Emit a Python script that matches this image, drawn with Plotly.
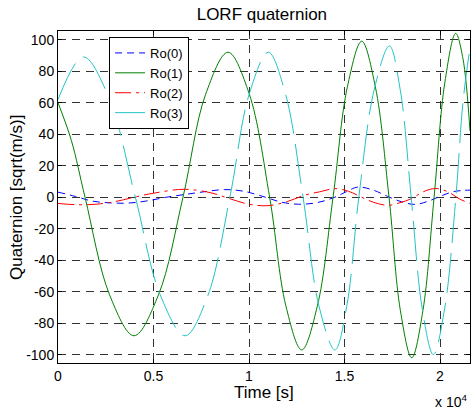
import plotly.graph_objects as go

# ---- data ----
t_ro0 = [0, 900, 1800, 2700, 3600, 4600, 5700, 6700, 7700, 8700, 9700, 10850, 11700,
         12600, 13550, 14500, 15100, 15700, 16500, 17250, 18000, 18700, 19400, 20000,
         20700, 21570]
ro0 = [3.2, 0.5, -2.5, -3.6, -3.8, -2.5, 0, 1.8, 3.5, 4.8, 3.8, 0, -3.2,
       -4.5, -3.5, 0, 3.5, 6.4, 4.5, 0.5, -3, -4.6, -2.5, 0.5, 3.5, 4.5]

t_ro1 = [0, 700, 1414, 2700, 3980, 5260, 6545, 7720, 8900, 10000, 11080, 11930, 12760,
         13580, 14400, 15150, 15900, 16615, 17330, 17925, 18520, 19105, 19690, 20255,
         20820, 21200, 21570]
ro1 = [60, 36, 0, -62, -88, -62, 0, 65, 92, 66, 0, -69, -97,
       -69, 0, 70, 99, 70, 0, -72, -102, -72, 0, 73, 104, 88, 42]

t_ro2 = [0, 1000, 2000, 3000, 4000, 5000, 6600, 8000, 9000, 10000, 11000, 12000, 12900,
         13700, 14500, 15200, 15800, 16500, 17300, 17900, 18500, 19100, 19750, 20400,
         21000, 21570]
ro2 = [-4, -4.8, -4.5, -2.8, 0, 2.5, 5, 2.8, -1, -4.5, -5.4, -2.8, 1.2,
       3.4, 5.4, 3.8, 0.5, -3.2, -5.2, -3.5, -1, 3.3, 5.5, 3.5, -1, -4]

t_ro3 = [0, 1330, 2670, 4050, 5350, 6650, 7830, 9000, 10000, 11010, 11920, 12830, 13660,
         14500, 15120, 15750, 16550, 17350, 17920, 18490, 19070, 19650, 20240, 20830,
         21200, 21570]
ro3 = [62, 89, 63, 0, -62, -88, -63, 0, 65, 92, 65, 0, -69,
       -97, -69, 0, 68, 96, 68, 0, -71, -100, -71, 0, 60, 95]

names = ["Ro(0)", "Ro(1)", "Ro(2)", "Ro(3)"]

x_ticks = [0, 5000, 10000, 15000, 20000]
x_tick_labels = ["0", "0.5", "1", "1.5", "2"]
y_ticks = [-100, -80, -60, -40, -20, 0, 20, 40, 60, 80, 100]
y_tick_labels = ["-100", "-80", "-60", "-40", "-20", "0", "20", "40", "60", "80", "100"]

FONT = "Liberation Sans, Arial, sans-serif"

fig = go.Figure()
series = [
    (t_ro0, ro0, "#0000ff", "7px,5px"),
    (t_ro1, ro1, "#008000", "solid"),
    (t_ro2, ro2, "#ff0000", "16px,5px,3px,5px"),
    (t_ro3, ro3, "#22c4c4", "40px,10px"),
]
for (t, v, c, d), n in zip(series, names):
    fig.add_trace(go.Scatter(x=t, y=v, mode="lines", name=n,
                             line=dict(color=c, width=1, dash=d, shape="spline",
                                       smoothing=1.0)))

axis_common = dict(showline=True, linecolor="black", linewidth=1, mirror="ticks",
                   ticks="inside", ticklen=4, tickcolor="black", automargin=False,
                   showgrid=True, gridcolor="#333333", gridwidth=1, griddash="8px,6px",
                   zeroline=False, tickfont=dict(family=FONT, size=14, color="black"))

fig.update_xaxes(range=[0, 21570], tickmode="array", tickvals=x_ticks, ticktext=x_tick_labels,
                 **axis_common)
fig.update_yaxes(range=[-105.3, 105.5], tickmode="array", tickvals=y_ticks, ticktext=y_tick_labels,
                 **axis_common)

title_font = dict(family=FONT, size=17, color="black")
fig.update_layout(
    width=471, height=411,
    margin=dict(l=58, r=1, t=31, b=48, autoexpand=False),
    paper_bgcolor="white", plot_bgcolor="white",
    title=dict(text="LORF quaternion", x=0.556, xanchor="center", y=0.967, yanchor="middle",
               font=title_font),
    legend=dict(x=0.124, y=0.982, xanchor="left", yanchor="top",
                bgcolor="white", bordercolor="black", borderwidth=1,
                font=dict(family=FONT, size=13, color="black"),
                tracegroupgap=0),
    annotations=[
        dict(text="Time [s]", xref="paper", yref="paper", x=0.5, y=-0.09,
             xanchor="center", yanchor="middle", showarrow=False, font=title_font),
        dict(text="Quaternion [sqrt(m/s)]", xref="paper", yref="paper", x=-0.102, y=0.5,
             xanchor="center", yanchor="middle", textangle=-90, showarrow=False,
             font=title_font),
        dict(text="x 10<sup>4</sup>", xref="paper", yref="paper",
             x=0.954, y=-0.115, xanchor="center", yanchor="middle", showarrow=False,
             font=dict(family=FONT, size=14, color="black")),
    ],
)

fig.write_html("out.html", config={"displayModeBar": False},
               post_script="document.body.style.margin='0px';document.body.style.overflow='hidden';")
